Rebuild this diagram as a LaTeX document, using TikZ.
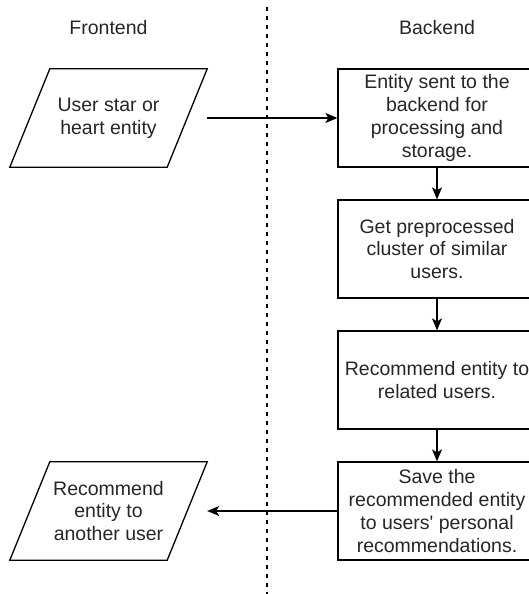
\documentclass[tikz,border=0pt]{standalone}
\usepackage{fontspec}
\setmainfont{Liberation Sans}[Ligatures=TeXOff]
\usetikzlibrary{arrows.meta}
\begin{document}
\begin{tikzpicture}[x=1pt,y=-1pt,
  txt/.style={text=black!85, font=\fontsize{19.5}{22.7}\selectfont, align=center, inner sep=0pt},
  stepbox/.style={txt, draw=black, line width=1.3pt, fill=white, minimum width=198pt, minimum height=98pt},
  iobox/.style={txt, minimum width=197pt, minimum height=98pt},
  flow/.style={line width=1.3pt, -{Stealth[length=12pt,width=10pt,inset=3pt]}},
  lane/.style={line width=1.2pt, dash pattern=on 4pt off 5pt}
]
\path[use as bounding box, clip] (0,0) rectangle (529,594);
\fill[white] (0,0) rectangle (529,594);

% input / output parallelograms (node = bounding box, outline drawn from its corners)
\node[iobox] (in) at (108.5,118) {User star or\\heart entity};
\node[iobox] (out) at (108.5,511) {Recommend\\entity to\\another user};
\foreach \p in {in,out}{
  \draw[line width=1.3pt, line join=miter]
    ([xshift=40pt]\p.north west) -- (\p.north east)
    -- ([xshift=-40pt]\p.south east) -- (\p.south west) -- cycle;
}

% backend process steps
\node[stepbox] (s1) at (437,118) {Entity sent to the\\backend for\\processing and\\storage.};
\node[stepbox] (s2) at (437,249) {Get preprocessed\\cluster of similar\\users.};
\node[stepbox] (s3) at (437,380) {Recommend entity to\\related users.};
\node[stepbox] (s4) at (437,511) {Save the\\recommended entity\\to users' personal\\recommendations.};

% connectors
\draw[flow] (in.east) -- (s1.west);
\draw[flow] (s1.south) -- (s2.north);
\draw[flow] (s2.south) -- (s3.north);
\draw[flow] (s3.south) -- (s4.north);
\draw[flow] (s4.west) -- (out.east);

% swimlane divider and titles
\coordinate (laneTop) at (267,7);
\coordinate (laneBottom) at (267,594);
\draw[lane] (laneTop) -- (laneBottom);
\node[txt] (front) at (108.5,28) {Frontend};
\node[txt] (back) at (437,28) {Backend};
\end{tikzpicture}
\end{document}
